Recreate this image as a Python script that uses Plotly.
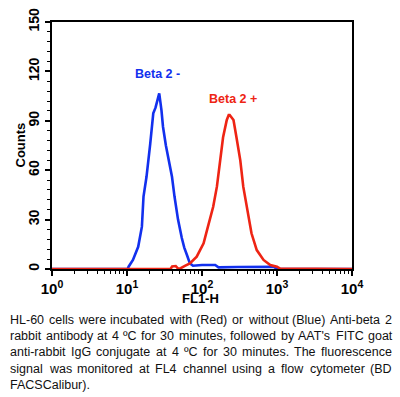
import plotly.graph_objects as go

# ---------------- data ----------------
blue_x = [1, 10.2, 10.5, 12.0, 14.1, 15.8, 16.6, 18.2, 20.4, 22.4, 24.0, 25.1, 26.9, 28.8, 30.2,
          33.0, 35.5, 39.8, 43.0, 47.9, 53.7, 58.0, 63.0, 69.0, 75.9, 100, 150, 158, 166, 300, 900, 1000, 10000]
blue_y = [0, 0, 1.4, 5.5, 13.5, 25.7, 44, 56, 76, 94.5, 98, 101.6, 106.7, 96.5, 86.4,
          75, 68, 56, 44, 30, 19, 13, 8.5, 3.4, 2.0, 2.4, 2.4, 1.4, 1.0, 1.2, 1.4, 0, 0]

red_x = [1, 38, 40, 44.7, 47.9, 52, 60, 69, 85, 105, 120, 141, 158, 174, 191, 214, 227, 234, 245,
         263, 288, 324, 355, 398, 457, 537, 661, 813, 1000, 1100, 10000]
red_y = [0, 0, 1.5, 1.8, 0.3, 0.5, 2.0, 3.4, 7.5, 15.6, 25.7, 37.8, 50, 66, 80, 90.5, 93.5, 93.5, 92,
         90.5, 80, 66, 50, 36, 21.7, 11.5, 5.5, 2.4, 1.4, 0.3, 0]

x_tickvals = [1, 10, 100, 1000, 10000]
x_ticktext = ["10<sup>0</sup>", "10<sup>1</sup>", "10<sup>2</sup>", "10<sup>3</sup>", "10<sup>4</sup>"]
x_minorvals = [m * d for d in (1, 10, 100, 1000) for m in range(2, 10)]
y_tickvals = [0, 30, 60, 90, 120, 150]

caption_lines = [
    "HL-60 cells were incubated with (Red) or without (Blue) Anti-beta 2",
    "rabbit antibody at 4 \u00baC for 30 minutes, followed by AAT's FITC goat",
    "anti-rabbit IgG conjugate at 4 \u00baC for 30 minutes. The fluorescence",
    "signal was monitored at FL4 channel using a flow cytometer (BD",
    "FACSCalibur).",
]

BLUE = "#1230ee"
RED = "#ee2414"
FONT = "Arial, 'Liberation Sans', sans-serif"

# ---------------- figure ----------------
W, H = 400, 397
L, R, T, B = 52, 48, 22, 128
PW, PH = W - L - R, H - T - B

fig = go.Figure()
fig.add_trace(go.Scatter(x=blue_x, y=blue_y, mode="lines",
                         line=dict(color=BLUE, width=2.6), showlegend=False))
fig.add_trace(go.Scatter(x=red_x, y=red_y, mode="lines",
                         line=dict(color=RED, width=2.6), showlegend=False))

fig.update_layout(
    width=W, height=H,
    margin=dict(l=L, r=R, t=T, b=B, pad=0, autoexpand=False),
    paper_bgcolor="white", plot_bgcolor="white",
    font=dict(family=FONT, color="black"),
)
fig.update_xaxes(
    type="log", range=[0, 4], showgrid=False, zeroline=False, automargin=False,
    showline=True, linecolor="black", linewidth=2, mirror=True,
    tickmode="array", tickvals=x_tickvals, ticktext=x_ticktext,
    ticks="outside", ticklen=5, tickwidth=1.5, tickcolor="black",
    tickfont=dict(family=FONT, size=15, color="black", weight="bold"),
    minor=dict(tickmode="array", tickvals=x_minorvals, ticks="outside",
               ticklen=3, tickwidth=1.2, tickcolor="black"),
)
fig.update_yaxes(
    range=[0, 150], showgrid=False, zeroline=False, automargin=False,
    showline=True, linecolor="black", linewidth=2, mirror=True,
    tickmode="array", tickvals=y_tickvals, tickangle=-90,
    ticks="outside", ticklen=5, tickwidth=1.5, tickcolor="black",
    tickfont=dict(family=FONT, size=14, color="black", weight="bold"),
    minor=dict(dtick=6, ticks="outside", ticklen=3, tickwidth=1.2, tickcolor="black"),
)

# axis titles
fig.add_annotation(text="<b>Counts</b>", xref="paper", yref="paper",
                   x=(20 - L) / PW, y=0.5, textangle=-90,
                   showarrow=False, font=dict(family=FONT, size=13, color="black"),
                   xanchor="center", yanchor="middle")
fig.add_annotation(text="<b>FL1-H</b>", xref="paper", yref="paper",
                   x=(200 - L) / PW, y=(T + PH - 298) / PH,
                   showarrow=False, font=dict(family=FONT, size=13, color="black"),
                   xanchor="center", yanchor="middle")

# curve labels
fig.add_annotation(text="<b>Beta 2 -</b>", x=1.40, y=118.4, showarrow=False,
                   font=dict(family=FONT, size=12.5, color=BLUE))
fig.add_annotation(text="<b>Beta 2 +</b>", x=2.41, y=103.2, showarrow=False,
                   font=dict(family=FONT, size=12.5, color=RED))

# caption (justified like the reference)
ARIAL = {" ": 278, "A": 667, "B": 667, "C": 722, "D": 722, "F": 611, "G": 778, "H": 722,
         "I": 278, "L": 556, "R": 722, "S": 667, "T": 611,
         "a": 556, "b": 556, "c": 500, "d": 556, "e": 556, "f": 278, "g": 556, "h": 556,
         "i": 222, "j": 222, "k": 500, "l": 222, "m": 833, "n": 556, "o": 556, "p": 556,
         "q": 556, "r": 333, "s": 500, "t": 278, "u": 556, "v": 500, "w": 722, "x": 500,
         "y": 500, "z": 500, "-": 333, "(": 333, ")": 333, ",": 278, ".": 278, "'": 191,
         "\u00ba": 365}
CAP_SIZE = 12.5
CAP_LEFT, CAP_RIGHT = 8, 390
CAP_Y0, CAP_DY = 320, 16.2


def text_w(s):
    return sum(ARIAL.get(ch, 556) for ch in s) * CAP_SIZE / 1000.0


for i, line in enumerate(caption_lines):
    ypix = CAP_Y0 + i * CAP_DY
    yp = (T + PH - ypix) / PH
    words = line.split(" ")
    last = i == len(caption_lines) - 1
    if last or len(words) < 2:
        fig.add_annotation(text=line, xref="paper", yref="paper",
                           x=(CAP_LEFT - L) / PW, y=yp, xanchor="left", yanchor="middle",
                           showarrow=False,
                           font=dict(family=FONT, size=CAP_SIZE, color="#111111"))
        continue
    ws = [text_w(w) for w in words]
    gap = (CAP_RIGHT - CAP_LEFT - sum(ws)) / (len(words) - 1)
    xpix = CAP_LEFT
    for w, wd in zip(words, ws):
        fig.add_annotation(text=w, xref="paper", yref="paper",
                           x=(xpix - L) / PW, y=yp, xanchor="left", yanchor="middle",
                           showarrow=False,
                           font=dict(family=FONT, size=CAP_SIZE, color="#111111"))
        xpix += wd + gap

fig.write_html("out.html", config={"displayModeBar": False},
               post_script="document.body.style.margin='0';document.body.style.overflow='hidden';")
